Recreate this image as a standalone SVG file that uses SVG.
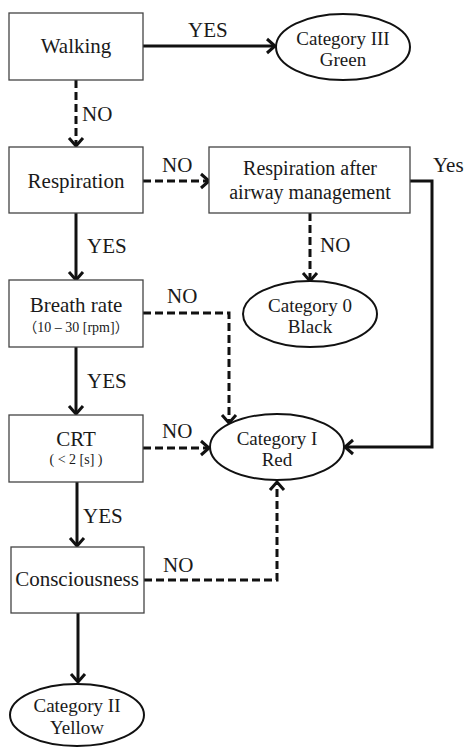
<svg xmlns="http://www.w3.org/2000/svg" width="465" height="747" viewBox="0 0 465 747">
  <style>
    text { fill: #1a1a1a; font-family: "Liberation Serif", "Noto Sans CJK JP", serif; }
    .box { fill: #fff; stroke: #444; stroke-width: 1.3; }
    .oval { fill: #fff; stroke: #111; stroke-width: 2; }
    .lbl { font-size: 21px; text-anchor: middle; }
    .olbl { font-size: 19px; text-anchor: middle; }
    .sub { font-size: 14px; text-anchor: middle; }
    .edge { font-size: 21px; }
    .solid { fill: none; stroke: #111; stroke-width: 3; marker-end: url(#chev); }
    .dash { fill: none; stroke: #111; stroke-width: 3; stroke-dasharray: 8 4; marker-end: url(#chev); }
  </style>
  <defs>
    <!-- open chevron arrowhead shared by all connectors -->
    <marker id="chev" markerUnits="userSpaceOnUse" markerWidth="16" markerHeight="18" refX="10" refY="8" orient="auto" overflow="visible">
      <path d="M2,1 L10,8 L2,15" fill="none" stroke="#111" stroke-width="3" stroke-dasharray="none"/>
    </marker>
  </defs>

  <rect width="465" height="747" fill="#fff"/>

  <!-- connectors: solid = YES path, dashed = NO path -->
  <g id="connectors">
    <path class="solid" d="M143,46 H275"/>
    <path class="dash" d="M76,80 V146"/>
    <path class="dash" d="M143,181 H209"/>
    <path class="dash" d="M310,213 V281"/>
    <path class="solid" d="M410,181 H432 V447 H345"/>
    <path class="solid" d="M76,213 V280"/>
    <path class="dash" d="M143,313 H229 V423"/>
    <path class="solid" d="M76,347 V414"/>
    <path class="dash" d="M143,448 H209"/>
    <path class="solid" d="M77,482 V546"/>
    <path class="dash" d="M144,580 H277 V482"/>
    <path class="solid" d="M78,613 V682"/>
  </g>

  <g id="edge-labels">
    <text class="edge" x="188" y="37">YES</text>
    <text class="edge" x="82" y="121">NO</text>
    <text class="edge" x="162" y="172">NO</text>
    <text class="edge" x="433" y="172">Yes</text>
    <text class="edge" x="320" y="252">NO</text>
    <text class="edge" x="87" y="253">YES</text>
    <text class="edge" x="167" y="303">NO</text>
    <text class="edge" x="87" y="388">YES</text>
    <text class="edge" x="162" y="438">NO</text>
    <text class="edge" x="83" y="523">YES</text>
    <text class="edge" x="163" y="572">NO</text>
  </g>

  <g id="walking">
    <rect class="box" x="9" y="13" width="134" height="67"/>
    <text class="lbl" x="76" y="53">Walking</text>
  </g>

  <g id="category-iii">
    <ellipse class="oval" cx="343" cy="47" rx="67" ry="33"/>
    <text class="olbl" x="343" y="45">Category III</text>
    <text class="olbl" x="343" y="66">Green</text>
  </g>

  <g id="respiration">
    <rect class="box" x="9" y="147" width="134" height="66"/>
    <text class="lbl" x="76" y="188">Respiration</text>
  </g>

  <g id="respiration-after">
    <rect class="box" x="209" y="147" width="201" height="66"/>
    <text class="lbl" x="310" y="175" style="font-size:20px">Respiration after</text>
    <text class="lbl" x="310" y="199" style="font-size:20px">airway management</text>
  </g>

  <g id="category-0">
    <ellipse class="oval" cx="310" cy="314" rx="67" ry="33"/>
    <text class="olbl" x="310" y="312">Category 0</text>
    <text class="olbl" x="310" y="333">Black</text>
  </g>

  <g id="breath-rate">
    <rect class="box" x="9" y="280" width="134" height="67"/>
    <text class="lbl" x="76" y="312">Breath rate</text>
    <text class="sub" x="76" y="332">（10 – 30 [rpm]）</text>
  </g>

  <g id="crt">
    <rect class="box" x="9" y="415" width="134" height="67"/>
    <text class="lbl" x="76" y="446">CRT</text>
    <text class="sub" x="76" y="464">( &lt; 2 [s] )</text>
  </g>

  <g id="category-i">
    <ellipse class="oval" cx="277" cy="447" rx="67" ry="33"/>
    <text class="olbl" x="277" y="445">Category I</text>
    <text class="olbl" x="277" y="466">Red</text>
  </g>

  <g id="consciousness">
    <rect class="box" x="11" y="547" width="133" height="66"/>
    <text class="lbl" x="77" y="586">Consciousness</text>
  </g>

  <g id="category-ii">
    <ellipse class="oval" cx="77" cy="715" rx="67" ry="31"/>
    <text class="olbl" x="77" y="712">Category II</text>
    <text class="olbl" x="77" y="734">Yellow</text>
  </g>
</svg>
